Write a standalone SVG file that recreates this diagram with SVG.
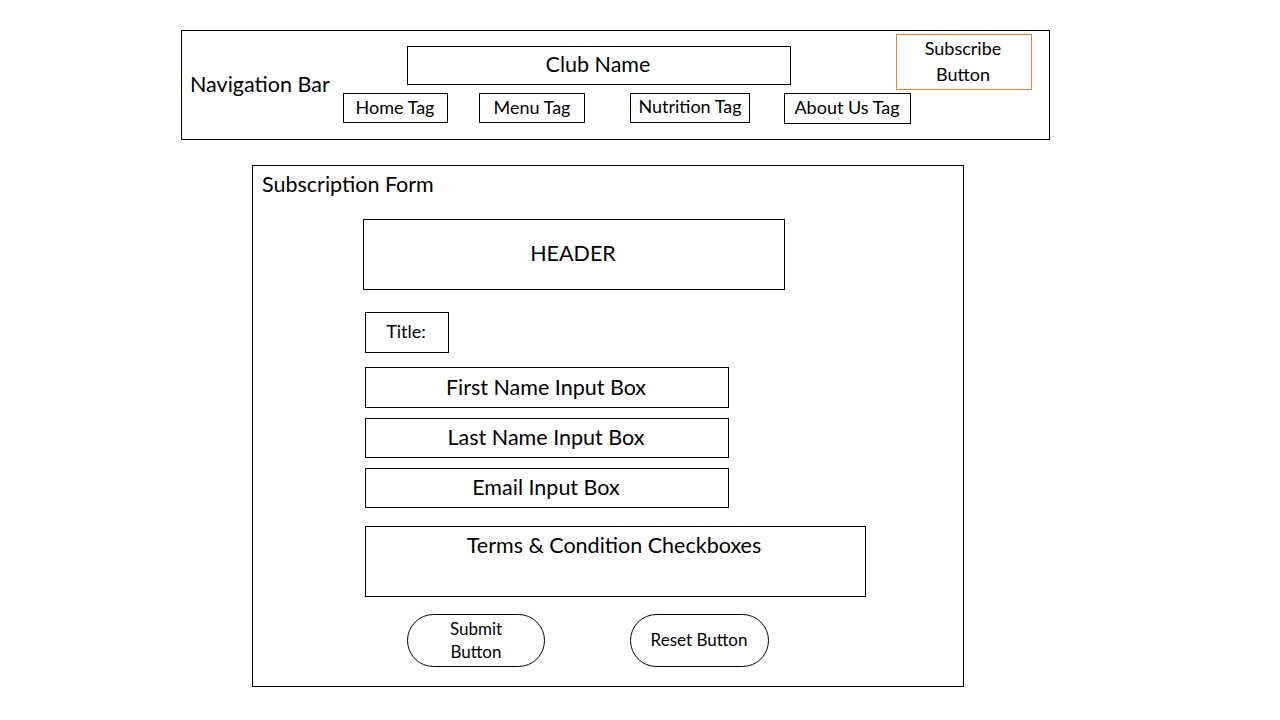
<svg xmlns="http://www.w3.org/2000/svg" width="1280" height="720" viewBox="0 0 1280 720">
<style>
.b{fill:#fff;stroke:#000;stroke-width:1}
.t{font-family:Lato,"Open Sans",sans-serif;fill:#000;text-anchor:middle;dominant-baseline:central}
.l{font-size:21.5px}
.m{font-size:18px}
.s{font-size:17px}
</style>
<rect width="1280" height="720" fill="#fff"/>
<g id="nav-bar">
<rect class="b" x="181.5" y="30.5" width="868" height="109"/>
<text class="t l" x="190" y="84" style="text-anchor:start">Navigation Bar</text>
</g>
<g id="club-name">
<rect class="b" x="407.5" y="46.5" width="383" height="38"/>
<text class="t l" x="598" y="64">Club Name</text>
</g>
<g id="subscribe-button">
<rect x="896.5" y="34.5" width="135" height="55" fill="#fff" stroke="#ED7D31" stroke-width="1"/>
<text class="t m" x="963" y="48">Subscribe</text>
<text class="t m" x="963" y="74">Button</text>
</g>
<g id="home-tag">
<rect class="b" x="343.5" y="93.5" width="104" height="29"/>
<text class="t m" x="395" y="107">Home Tag</text>
</g>
<g id="menu-tag">
<rect class="b" x="479.5" y="93.5" width="105" height="29"/>
<text class="t m" x="532" y="107">Menu Tag</text>
</g>
<g id="nutrition-tag">
<rect class="b" x="630.5" y="93.5" width="119" height="29"/>
<text class="t m" x="690" y="106">Nutrition Tag</text>
</g>
<g id="about-tag">
<rect class="b" x="784.5" y="93.5" width="126" height="30"/>
<text class="t m" x="847" y="107">About Us Tag</text>
</g>
<g id="subscription-form">
<rect class="b" x="252.5" y="165.5" width="711" height="521"/>
<text class="t l" x="262" y="184" style="text-anchor:start">Subscription Form</text>
</g>
<g id="header">
<rect class="b" x="363.5" y="219.5" width="421" height="70"/>
<text class="t l" x="573" y="253">HEADER</text>
</g>
<g id="title">
<rect class="b" x="365.5" y="312.5" width="83" height="40"/>
<text class="t m" x="406" y="331">Title:</text>
</g>
<g id="first-name">
<rect class="b" x="365.5" y="367.5" width="363" height="40"/>
<text class="t l" x="546" y="387">First Name Input Box</text>
</g>
<g id="last-name">
<rect class="b" x="365.5" y="418.5" width="363" height="39"/>
<text class="t l" x="546" y="437">Last Name Input Box</text>
</g>
<g id="email">
<rect class="b" x="365.5" y="468.5" width="363" height="39"/>
<text class="t l" x="546" y="487">Email Input Box</text>
</g>
<g id="terms">
<rect class="b" x="365.5" y="526.5" width="500" height="70"/>
<text class="t l" x="614" y="545">Terms &amp; Condition Checkboxes</text>
</g>
<g id="submit-button">
<rect class="b" x="407.5" y="614.5" width="137" height="52" rx="26"/>
<text class="t s" x="476" y="628">Submit</text>
<text class="t s" x="476" y="651">Button</text>
</g>
<g id="reset-button">
<rect class="b" x="630.5" y="614.5" width="138" height="52" rx="26"/>
<text class="t s" x="699" y="639">Reset Button</text>
</g>
<g id="connectors"></g>
</svg>
